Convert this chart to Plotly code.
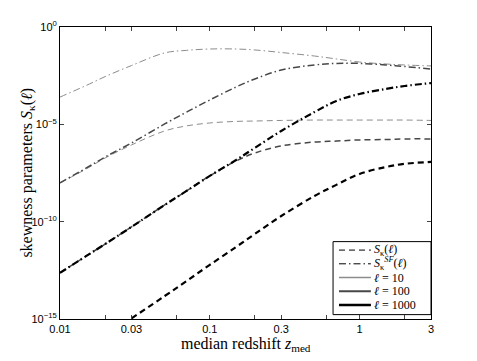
import numpy as np
import plotly.graph_objects as go

# redshift grid
z = [0.01, 0.015, 0.02, 0.03, 0.05, 0.07, 0.1, 0.15, 0.2, 0.3, 0.5, 0.7, 1, 1.5, 2, 3]

# log10 of S_kappa(l)
logS_10 = [-8.01, -7.29, -6.73, -6.06, -5.34, -5.08, -4.93, -4.85, -4.83, -4.80, -4.78, -4.78, -4.78, -4.78, -4.78, -4.80]
logS_100 = [-12.63, -11.76, -11.15, -10.27, -9.14, -8.42, -7.65, -6.88, -6.47, -6.11, -5.91, -5.86, -5.80, -5.78, -5.75, -5.75]
z_1000 = [0.03, 0.05, 0.07, 0.1, 0.15, 0.2, 0.3, 0.5, 0.7, 1, 1.5, 2, 3]
logS_1000 = [-14.97, -13.82, -13.05, -12.22, -11.30, -10.63, -9.71, -8.68, -8.11, -7.55, -7.19, -7.03, -6.93]

# log10 of S_kappa^SF(l)
logSF_10 = [-3.60, -3.00, -2.55, -1.98, -1.33, -1.20, -1.13, -1.13, -1.18, -1.31, -1.49, -1.64, -1.80, -1.90, -1.95, -2.00]
logSF_100 = [-8.01, -7.24, -6.68, -5.96, -4.98, -4.37, -3.75, -3.08, -2.67, -2.21, -1.95, -1.87, -1.87, -1.95, -2.03, -2.16]
logSF_1000 = [-12.63, -11.76, -11.15, -10.27, -9.14, -8.42, -7.65, -6.83, -6.21, -5.34, -4.37, -3.80, -3.44, -3.18, -3.03, -2.88]

x_ticks = [0.01, 0.02, 0.03, 0.06, 0.1, 0.2, 0.3, 0.6, 1, 2, 3]
x_labels = ['0.01', '', '0.03', '', '0.1', '', '0.3', '', '1', '', '3']
y_ticks = [1, 1e-5, 1e-10, 1e-15]
y_labels = ['10<sup>0</sup>', '10<sup>−5</sup>', '10<sup>−10</sup>', '10<sup>−15</sup>']

legend_labels = [
    '<i>S</i><sub>κ</sub>(<i>ℓ</i>)',
    '<i>S</i><sub>κ</sub><sup><i>SF</i></sup>(<i>ℓ</i>)',
    '<i>ℓ</i> = 10',
    '<i>ℓ</i> = 100',
    '<i>ℓ</i> = 1000',
]

cols = {10: '#8c8c8c', 100: '#474747', 1000: '#000000'}
widths = {10: 1, 100: 1.5, 1000: 2.2}
dash_s = '6px,4px'
dash_sf = '7px,3px,1.5px,3px'
serif = 'Liberation Serif, Times New Roman, serif'

fig = go.Figure()

curves = [
    (z, logS_10, 10, dash_s), (z, logS_100, 100, dash_s), (z_1000, logS_1000, 1000, dash_s),
    (z, logSF_10, 10, dash_sf), (z, logSF_100, 100, dash_sf), (z, logSF_1000, 1000, dash_sf),
]
for zz, ly, l, d in curves:
    fig.add_trace(go.Scatter(
        x=zz, y=10 ** np.array(ly), mode='lines', line_shape='spline',
        line=dict(color=cols[l], width=widths[l], dash=d), showlegend=False,
    ))

# legend drawn by hand (plotly's own rows are too tall)
fig.add_shape(type='rect', xref='paper', yref='paper', x0=0.736, x1=1.0, y0=0.015, y1=0.265,
              line=dict(color='black', width=1), fillcolor='white', layer='above')
leg_style = [('black', 1, dash_s), ('black', 1, dash_sf),
             (cols[10], 1.5, 'solid'), (cols[100], 2, 'solid'), (cols[1000], 2.5, 'solid')]
for i, (lab, (c, w, d)) in enumerate(zip(legend_labels, leg_style)):
    yy = 0.236 - i * 0.047
    fig.add_shape(type='line', xref='paper', yref='paper', x0=0.752, x1=0.838, y0=yy, y1=yy,
                  line=dict(color=c, width=w, dash=d), layer='above')
    fig.add_annotation(xref='paper', yref='paper', x=0.842, y=yy, text=lab, showarrow=False,
                       xanchor='left', yanchor='middle', font=dict(family=serif, size=12))

# axis titles
fig.add_annotation(xref='paper', yref='paper', x=0.5, y=-0.088, yanchor='middle',
                   text='median redshift <i>z</i><sub>med</sub>', showarrow=False,
                   font=dict(family=serif, size=16))
fig.add_annotation(xref='paper', yref='paper', x=-0.09, y=0.5, xanchor='center', textangle=-90,
                   text='skewness parameters <i>S</i><sub>κ</sub>(<i>ℓ</i>)', showarrow=False,
                   font=dict(family=serif, size=16))

fig.update_layout(
    width=477, height=361,
    margin=dict(l=60, r=46, t=27, b=42),
    plot_bgcolor='white', paper_bgcolor='white',
    font=dict(family='Liberation Sans, Arial', size=11, color='black'),
    showlegend=False,
)
fig.update_xaxes(
    type='log', range=[-2, np.log10(3)], tickvals=x_ticks, ticktext=x_labels,
    ticks='inside', ticklen=4, showline=True, linecolor='black', linewidth=1, mirror='ticks',
    showgrid=False, zeroline=False, automargin=False,
)
fig.update_yaxes(
    type='log', range=[-15, 0], tickvals=y_ticks, ticktext=y_labels,
    ticks='inside', ticklen=4, showline=True, linecolor='black', linewidth=1, mirror='ticks',
    showgrid=False, zeroline=False, automargin=False,
)

# drop the page's default body margin so the figure sits at the top-left corner
fig.write_html("out.html", config={'displayModeBar': False},
               post_script="document.body.style.margin='0';")
